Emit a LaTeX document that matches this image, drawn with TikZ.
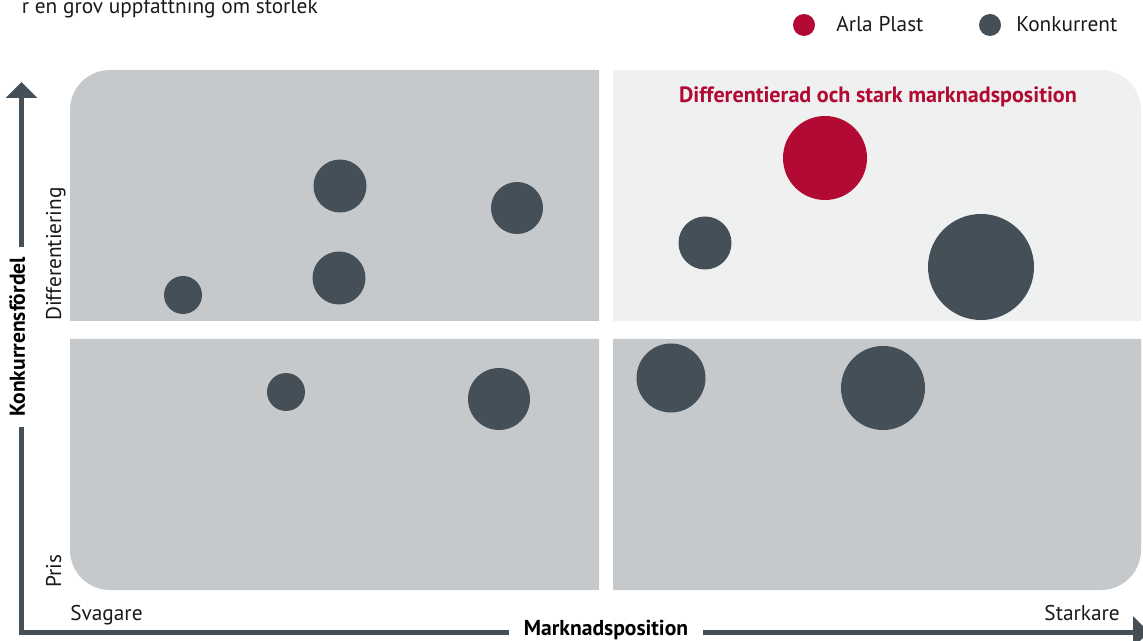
\documentclass[tikz,border=0pt]{standalone}
\usepackage{fontspec}
\setmainfont{PT Sans}
\usetikzlibrary{arrows.meta}
\definecolor{arlarod}{HTML}{B20A32}
\definecolor{konkgra}{HTML}{444F58}
\definecolor{rutgra}{HTML}{C6C9CC}
\definecolor{rutljus}{HTML}{EFF0F0}
\definecolor{brodtext}{HTML}{1A1A1A}
\tikzset{
    bubbla/.style={circle, fill=konkgra, inner sep=0pt, minimum size=#1*0.75pt},
    axel/.style={line width=3.75pt, draw=konkgra},
    axelnamn/.style={font=\bfseries\fontsize{16.2}{19}\selectfont, text=black, anchor=mid, inner xsep=7pt, inner ysep=0pt},
    etikett/.style={font=\fontsize{16}{19}\selectfont, text=brodtext, inner sep=0pt},
}
\begin{document}
\begin{tikzpicture}[x=0.75pt, y=-0.75pt]
    \useasboundingbox (0,0) rectangle (1143,641);
    \clip (0,0) rectangle (1143,641);

    \fill[rutgra] (599,321) -- (70,321) -- (70,110) arc[start angle=180, end angle=270, radius=40] -- (599,70) -- cycle;
    \fill[rutljus] (613,321) -- (613,70) -- (1101,70) arc[start angle=270, end angle=360, radius=40] -- (1141,321) -- cycle;
    \fill[rutgra] (599,339) -- (70,339) -- (70,550) arc[start angle=180, end angle=90, radius=40] -- (599,590) -- cycle;
    \fill[rutgra] (613,339) -- (1141,339) -- (1141,550) arc[start angle=0, end angle=90, radius=40] -- (613,590) -- cycle;

    \node[etikett, anchor=base east] (ingress) at (318,14) {r en grov uppfattning om storlek};
    \node[bubbla=22, fill=arlarod] (legarla) at (804,25) {};
    \node[etikett, anchor=base west] (legarlatext) at (836,32) {Arla Plast};
    \node[bubbla=22] (legkonk) at (990,25) {};
    \node[etikett, anchor=base west] (legkonktext) at (1016,32) {Konkurrent};
    \node[etikett, font=\bfseries\fontsize{16.6}{19}\selectfont, text=arlarod, anchor=base] (rubrik) at (878,103) {Differentierad och stark marknadsposition};

    \node[bubbla=53] (k1) at (340,186) {};
    \node[bubbla=52] (k2) at (517,208) {};
    \node[bubbla=53] (k3) at (339,278) {};
    \node[bubbla=38] (k4) at (183,295) {};
    \node[bubbla=38] (k5) at (286,392) {};
    \node[bubbla=62] (k6) at (499,399) {};
    \node[bubbla=53] (k7) at (705,243) {};
    \node[bubbla=106] (k8) at (981,267) {};
    \node[bubbla=69] (k9) at (671,378) {};
    \node[bubbla=84] (k10) at (883,388) {};
    \node[bubbla=84, fill=arlarod] (arla) at (825,158) {};

    \node[etikett, rotate=90, anchor=base west] (diff) at (61,321) {Differentiering};
    \node[etikett, rotate=90, anchor=base west] (pris) at (61,588) {Pris};
    \node[etikett, anchor=base west] (svagare) at (70,620) {Svagare};
    \node[etikett, anchor=base east] (starkare) at (1120,620) {Starkare};

    \coordinate (origo) at (21.5,632);
    \coordinate (ytopp) at (21.5,82);
    \coordinate (xslut) at (1149,632);
    \node[axelnamn, rotate=90] (ynamn) at (21.5,337) {Konkurrensfördel};
    \node[axelnamn, inner xsep=11pt] (xnamn) at (606,632) {Marknadsposition};
    \draw[axel] (ynamn.mid west) -- (origo) -- (xnamn.mid west);
    \draw[axel, -{Triangle[width=23pt, length=12pt]}] (ynamn.mid east) -- (ytopp);
    \draw[axel, -{Triangle[width=23pt, length=12pt]}] (xnamn.mid east) -- (xslut);
\end{tikzpicture}
\end{document}
